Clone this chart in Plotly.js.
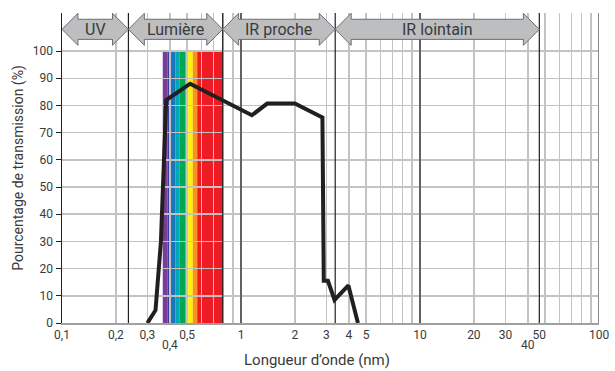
<!DOCTYPE html>
<html><head><meta charset="utf-8">
<script src="https://cdn.plot.ly/plotly-3.0.1.min.js"></script>
<style>html,body{margin:0;padding:0;background:#fff}#chart{width:615px;height:371px}</style>
</head><body><div id="chart"></div>
<script>
// Transmission curve
const wavelength   = [0.30, 0.333, 0.357, 0.382, 0.52, 1.15, 1.40, 2.0, 2.85, 2.9, 3.06, 3.33, 3.98, 4.5];
const transmission = [0,    4.7,   30,    82,    88,   76.4, 80.7, 80.7, 75.6, 15.5, 15.5, 8.5, 13.8, 0];

// Spectral bands (arrows on top)
const bandNames = ['UV', 'Lumière', 'IR proche', 'IR lointain'];
const bandStart = [0.1, 0.235, 0.79, 3.36];
const bandEnd   = [0.235, 0.79, 3.36, 46.4];
const boundaryLines = [0.235, 0.79, 1, 3.36, 10, 46.4];

// Visible spectrum stripes
const spectrumEdges  = [0.3655, 0.3897, 0.405, 0.4291, 0.4548, 0.4913, 0.5073, 0.5375, 0.5694, 0.79];
const spectrumColors = ['#7c3b97', '#3a3f9b', '#1b75bc', '#00a6b5', '#00a651', '#cbdb2a', '#fff200', '#f7941d', '#ed1c24'];

// Axis ticks
const gridVals = [0.1,0.2,0.3,0.4,0.5,0.6,0.7,0.8,0.9,1,2,3,4,5,6,7,8,9,10,20,30,40,50,60,70,80,90,100];
const tickVals = [0.1, 0.2, 0.3, 0.5, 1, 2, 3, 4, 5, 10, 20, 30, 46.4, 100];
const tickText = ['0,1','0,2','0,3','0,5','1','2','3','4','5','10','20','30','50','100'];
const lowLabelVals = [0.4, 40];
const lowLabelText = ['0,4', '40'];
const yTickVals = [0,10,20,30,40,50,60,70,80,90,100];
const xTitle = 'Longueur d’onde (nm)';
const yTitle = 'Pourcentage de transmission (%)';

const ink = '#231f20';
const textCol = '#3a3a3a';
const font = 'Roboto, "Open Sans", sans-serif';

const traces = [];

// boundary dark lines
boundaryLines.forEach(v => traces.push({
  x: [v, v], y: [0, 114], mode: 'lines', line: {color: ink, width: 1.2}, hoverinfo: 'skip'
}));
// right edge line
traces.push({x: [100, 100], y: [0, 114], mode: 'lines', line: {color: '#8a8a8a', width: 2}, hoverinfo: 'skip'});

// arrows
const headLen = 0.089; // decades
const yc = 108, headH = 5.9, bodyH = 3.7;
const annotations = [];
for (let i = 0; i < bandNames.length; i++) {
  const u0 = Math.log10(bandStart[i]), u1 = Math.log10(bandEnd[i]);
  const pu = [u0, u0+headLen, u0+headLen, u1-headLen, u1-headLen, u1, u1-headLen, u1-headLen, u0+headLen, u0+headLen, u0];
  const py = [yc, yc+headH, yc+bodyH, yc+bodyH, yc+headH, yc, yc-headH, yc-bodyH, yc-bodyH, yc-headH, yc];
  traces.push({
    x: pu.map(u => Math.pow(10, u)), y: py, mode: 'lines', fill: 'toself',
    fillcolor: '#bcbec0', line: {color: '#6d6e71', width: 1}, hoverinfo: 'skip'
  });
  annotations.push({
    x: (u0 + u1) / 2, y: yc, xref: 'x', yref: 'y', text: bandNames[i], showarrow: false,
    font: {family: font, size: 16, color: textCol}
  });
}

// low labels
lowLabelVals.forEach((v, i) => annotations.push({
  x: Math.log10(v), y: -0.072, xref: 'x', yref: 'paper', text: lowLabelText[i], showarrow: false,
  font: {family: font, size: 12, color: textCol}, yanchor: 'middle'
}));

// x title as annotation (slightly left of centre in the original)
annotations.push({
  x: 0.475, y: -0.12, xref: 'paper', yref: 'paper', text: xTitle, showarrow: false,
  font: {family: font, size: 15, color: textCol}, yanchor: 'middle'
});

// curve
traces.push({
  x: wavelength, y: transmission, mode: 'lines',
  line: {color: ink, width: 4}, hoverinfo: 'skip'
});

// spectrum shapes (below grid)
const shapes = spectrumColors.map((c, i) => ({
  type: 'rect', xref: 'x', yref: 'y', x0: spectrumEdges[i], x1: spectrumEdges[i+1], y0: 0, y1: 100,
  fillcolor: c, line: {width: 0}, layer: 'below'
}));

// tick text for all grid values
const allTicks = gridVals.concat([46.4]);
const allText = allTicks.map(v => {
  const k = tickVals.indexOf(v);
  return k >= 0 ? tickText[k] : '';
});

const layout = {
  width: 615, height: 371,
  margin: {l: 62, r: 16, t: 13, b: 48},
  paper_bgcolor: '#fff', plot_bgcolor: '#fff',
  showlegend: false, hovermode: false,
  font: {family: font, size: 12, color: textCol},
  xaxis: {
    type: 'log', range: [-1, 2], tickmode: 'array', tickvals: allTicks, ticktext: allText,
    ticks: '', showline: true, linecolor: '#a0a0a0', linewidth: 2,
    showgrid: true, gridcolor: '#c3c3c3', gridwidth: 1.5, zeroline: false,
    tickfont: {family: font, size: 12, color: textCol}
  },
  yaxis: {
    range: [0, 114], tickmode: 'array', tickvals: yTickVals,
    ticks: 'outside', ticklen: 5, tickcolor: ink, tickwidth: 1,
    showline: true, linecolor: ink, linewidth: 1.5,
    showgrid: true, gridcolor: '#c3c3c3', gridwidth: 1.5, zeroline: false,
    tickfont: {family: font, size: 12, color: textCol},
    title: {text: yTitle, font: {family: font, size: 14, color: textCol}, standoff: 6}
  },
  shapes: shapes,
  annotations: annotations
};

Plotly.newPlot('chart', traces, layout, {staticPlot: true, displayModeBar: false});
</script>
</body></html>
